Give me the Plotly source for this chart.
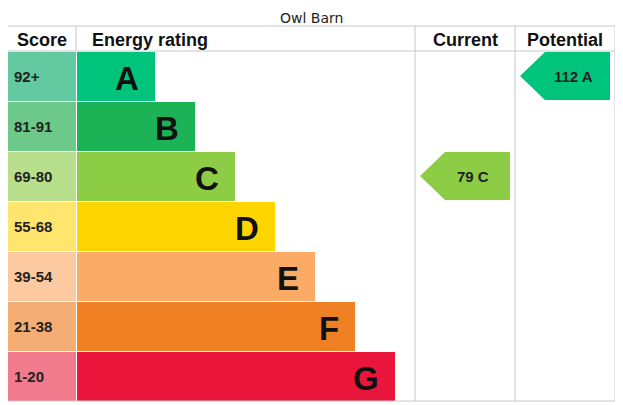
import plotly.graph_objects as go

title = "Owl Barn"
bands = ["A", "B", "C", "D", "E", "F", "G"]
score_ranges = ["92+", "81-91", "69-80", "55-68", "39-54", "21-38", "1-20"]
band_min = [92, 81, 69, 55, 39, 21, 1]
bar_colors = ["#00c47b", "#1bb356", "#8dcd45", "#ffd500", "#fcab66", "#ef8124", "#e9153b"]
score_colors = ["#62c9a0", "#6dc98a", "#b7df8c", "#ffe56e", "#fdc9a1", "#f5ad76", "#f27a8d"]
current_score = 79
potential_score = 112

W, H = 623, 405
OFF = 8  # page body margin
L, R, TOP, HDR, ROW = 5, 615, 26, 51, 50
SCORE_R, BAR_L = 76, 77
CUR_L, POT_L = 415, 515

def band_of(s):
    for i, m in enumerate(band_min):
        if s >= m:
            return i
    return len(bands) - 1

centers = [HDR + ROW * i + ROW / 2 for i in range(len(bands))]
bar_len = [78 + 40 * i for i in range(len(bands))]

fig = go.Figure()
fig.add_trace(go.Bar(orientation="h", y=centers, x=[SCORE_R - L] * 7, base=L,
                     width=49, marker=dict(color=score_colors, line_width=0), hoverinfo="skip"))
fig.add_trace(go.Bar(orientation="h", y=centers, x=bar_len, base=BAR_L,
                     width=49, marker=dict(color=bar_colors, line_width=0), hoverinfo="skip"))

ann = []
for i in range(7):
    ann.append(dict(x=L + 7, y=centers[i], text=score_ranges[i], xanchor="left", showarrow=False,
                    font=dict(family="Liberation Sans", size=15, color="#222", weight="bold")))
    ann.append(dict(x=BAR_L + bar_len[i] - 14, y=centers[i] + 2, text=bands[i], xanchor="right",
                    showarrow=False, font=dict(family="Liberation Sans", size=33, color="#111", weight="bold")))

for s, x0 in [(current_score, CUR_L), (potential_score, POT_L)]:
    i = band_of(s)
    cy = centers[i]
    xs = [x0 + 5, x0 + 30, x0 + 95, x0 + 95, x0 + 30, x0 + 5]
    ys = [cy, cy - 24, cy - 24, cy + 24, cy + 24, cy]
    fig.add_trace(go.Scatter(x=xs, y=ys, fill="toself", fillcolor=bar_colors[i], mode="lines",
                             line=dict(width=0), hoverinfo="skip"))
    ann.append(dict(x=x0 + 58, y=cy, text=f"{s} {bands[i]}", showarrow=False,
                    font=dict(family="Liberation Sans", size=15, color="#222", weight="bold")))

hdrf = dict(family="Liberation Sans", size=18, color="#111", weight="bold")
ann += [
    dict(x=(L + SCORE_R) / 2 + 1, y=(TOP + HDR) / 2 + 1, text="Score", showarrow=False, font=hdrf),
    dict(x=90, y=(TOP + HDR) / 2 + 1, text="Energy rating", xanchor="left", showarrow=False, font=hdrf),
    dict(x=(CUR_L + POT_L) / 2, y=(TOP + HDR) / 2 + 1, text="Current", showarrow=False, font=hdrf),
    dict(x=(POT_L + R) / 2, y=(TOP + HDR) / 2 + 1, text="Potential", showarrow=False, font=hdrf),
    dict(x=W / 2, y=OFF, yanchor="top", text=title, showarrow=False,
         font=dict(family="DejaVu Sans", size=14, color="#222")),
]

lc = dict(color="#c8c8c8", width=1)
shapes = [
    dict(type="rect", x0=L, x1=R, y0=TOP, y1=H - 4, line=lc),
    dict(type="line", x0=L, x1=R, y0=HDR, y1=HDR, line=lc),
    dict(type="line", x0=SCORE_R, x1=SCORE_R, y0=TOP, y1=HDR, line=lc),
    dict(type="line", x0=CUR_L, x1=CUR_L, y0=TOP, y1=H - 4, line=lc),
    dict(type="line", x0=POT_L, x1=POT_L, y0=TOP, y1=H - 4, line=lc),
]

fig.update_layout(width=W - OFF, height=H - OFF, margin=dict(l=0, r=0, t=0, b=0), showlegend=False,
                  plot_bgcolor="white", paper_bgcolor="white", bargap=0, barmode="overlay",
                  annotations=ann, shapes=shapes,
                  xaxis=dict(range=[OFF, W], visible=False, fixedrange=True),
                  yaxis=dict(range=[H, OFF], visible=False, fixedrange=True))
fig.write_html("out.html", config={"displayModeBar": False})
